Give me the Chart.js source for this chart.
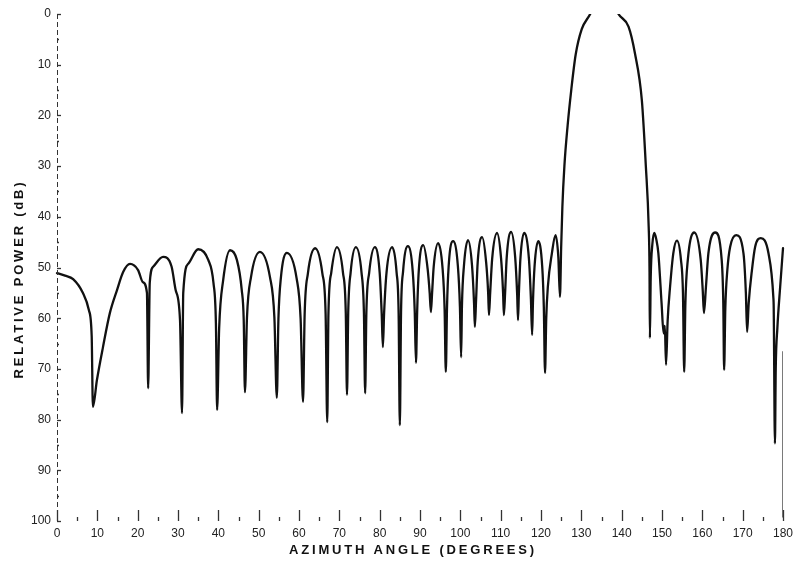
<!DOCTYPE html>
<html>
<head>
<meta charset="utf-8">
<script src="https://cdn.jsdelivr.net/npm/chart.js@4.4.1/dist/chart.umd.min.js"></script>
<style>
  body { margin: 0; background: #fff; }
  #wrap { width: 801px; height: 565px; position: relative; }
</style>
</head>
<body>
<div id="wrap"><canvas id="pattern"></canvas></div>
<script>
// azimuth (deg), relative power (dB) - sidelobes left of the main beam
var leftLobes = [
    [0, 51.1], [2.0, 51.6], [4.0, 52.3], [6.4, 55.0], [7.9, 58.4], [8.6, 63.5], [8.9, 77.5],
    [9.9, 72.2], [11.4, 65.7], [13.1, 59.0], [14.9, 54.4], [16.4, 50.9], [18.1, 49.3], [20.1, 50.5], [21.3, 52.9], [22.3, 55.0], [22.6, 73.8],
    [23.0, 53.0], [23.9, 49.8], [26.3, 47.9], [28.4, 49.8], [29.4, 54.4], [30.5, 60.4], [31.0, 78.7],
    [31.3, 55.0], [32.6, 49.2], [35.0, 46.4], [37.5, 48.5], [38.8, 53.1], [39.4, 61.0], [39.7, 78.1],
    [40.2, 62.0], [41.2, 52.5], [42.9, 46.6], [44.6, 48.5], [45.8, 54.4], [46.3, 60.5], [46.6, 74.6],
    [47.1, 59.9], [48.1, 51.9], [50.3, 46.9], [52.8, 51.9], [53.9, 59.9], [54.5, 75.7],
    [54.9, 60.1], [55.5, 52.1], [57.0, 47.1], [59.4, 52.1], [60.4, 60.1], [61.0, 76.5],
    [61.4, 59.2], [62.2, 51.2], [64.0, 46.2], [65.8, 51.2], [66.6, 59.2], [67.0, 80.5],
    [67.3, 59.0], [68.0, 51.0], [69.4, 46.0], [70.9, 51.0], [71.6, 59.0], [71.9, 75.1],
    [72.2, 59.0], [72.8, 51.0], [74.1, 46.0], [75.5, 51.0], [76.1, 59.0], [76.4, 74.8],
    [76.7, 59.0], [77.4, 51.0], [78.8, 46.0], [80.0, 51.0], [80.5, 59.0], [80.8, 65.7],
    [81.1, 59.0], [81.7, 51.0], [83.1, 46.0], [84.2, 51.0], [84.7, 59.0], [85.0, 81.1],
    [85.3, 58.8], [85.8, 50.8], [87.0, 45.8], [88.2, 50.8], [88.7, 58.8], [89.0, 68.8],
    [89.3, 58.6], [89.7, 50.6], [90.8, 45.6], [91.9, 50.3], [92.4, 55.0], [92.7, 58.8],
    [93.0, 55.0], [93.4, 49.8], [94.5, 45.2], [95.6, 50.2], [96.1, 58.2], [96.4, 70.6],
    [96.7, 57.8], [97.1, 49.8], [98.2, 44.8], [99.4, 49.8], [99.9, 57.8], [100.2, 67.7],
    [100.4, 57.6], [100.9, 49.6], [101.9, 44.6], [102.9, 49.6], [103.4, 57.0], [103.6, 61.7],
    [103.9, 56.5], [104.3, 49.0], [105.4, 44.0], [106.4, 49.0], [106.9, 55.0], [107.1, 59.4],
    [107.4, 55.0], [107.9, 48.2], [109.1, 43.2], [110.1, 48.2], [110.6, 55.0], [110.8, 59.4],
    [111.1, 55.0], [111.5, 48.0], [112.6, 43.0], [113.6, 48.0], [114.1, 55.5], [114.3, 60.4],
    [114.5, 55.5], [114.9, 48.2], [115.8, 43.2], [117.0, 48.2], [117.5, 56.2], [117.8, 63.3],
    [118.0, 57.0], [118.4, 49.8], [119.3, 44.8], [120.3, 49.8], [120.7, 57.8], [121.0, 70.8],
    [121.3, 60.0], [121.7, 53.8], [122.7, 47.2], [123.6, 43.6], [124.3, 48.0], [124.7, 55.8]
];

// main beam (peak runs off the top of the scale)
var mainBeam = [
    [125.0, 46.0], [125.3, 38.0], [125.8, 30.0], [126.6, 22.0], [127.5, 15.0], [128.6, 8.0], [130.1, 3.0], [132.2, 0.0],
    [133.6, -2.5], [135.7, -4.0], [137.8, -2.5],
    [139.2, 0.0], [141.7, 2.5], [143.3, 7.8], [145.0, 17.0], [146.0, 30.1], [146.7, 42.0], [146.9, 50.0], [147.0, 63.9]
];

// sidelobes right of the main beam
var rightLobes = [
    [147.2, 52.0], [147.6, 45.5], [148.1, 43.2], [148.6, 44.5], [149.1, 47.2], [149.9, 57.1], [150.4, 63.0], [150.7, 61.5], [151.0, 69.2],
    [151.4, 60.5], [152.0, 53.8], [152.8, 47.2], [153.7, 44.7], [154.7, 48.5], [155.2, 55.1], [155.5, 70.6],
    [155.8, 57.0], [156.4, 48.5], [158.0, 43.1], [159.6, 48.5], [160.1, 54.5], [160.4, 59.0],
    [160.9, 53.8], [161.5, 47.2], [163.2, 43.1], [164.8, 48.5], [165.2, 57.1], [165.4, 70.2],
    [165.7, 58.0], [166.2, 50.5], [166.9, 45.9], [168.4, 43.6], [170.2, 47.2], [170.8, 55.1], [171.1, 62.7],
    [171.5, 57.0], [172.3, 50.5], [173.1, 45.9], [174.5, 44.2], [176.4, 47.2], [177.6, 55.8], [177.7, 58.0], [178.0, 84.7],
    [178.2, 70.0], [178.6, 62.0], [179.3, 53.8], [180.0, 46.2]
];

// pen trace dropping off at the end of the sweep
var dropout = [[180.0, 66.5], [180.0, 99.3]];

var xTicks = [0, 10, 20, 30, 40, 50, 60, 70, 80, 90, 100, 110, 120, 130, 140, 150, 160, 170, 180];
var yTicks = [0, 10, 20, 30, 40, 50, 60, 70, 80, 90, 100];

var xTitle = 'AZIMUTH ANGLE (DEGREES)';
var yTitle = 'RELATIVE POWER (dB)';

function toPoints(list) {
    return list.map(function(p) { return {x: p[0], y: p[1]}; });
}

var trace = leftLobes.concat(mainBeam, rightLobes);

// tick marks, dashed left axis and spaced-out titles
var axisMarks = {
    id: 'axisMarks',
    afterDraw: function(chart) {
        var ctx = chart.ctx;
        var area = chart.chartArea;
        var x = chart.scales.x;
        var y = chart.scales.y;

        ctx.save();
        ctx.strokeStyle = '#333';
        ctx.lineWidth = 1;

        ctx.setLineDash([5, 3]);
        ctx.beginPath();
        ctx.moveTo(area.left + 0.5, area.top);
        ctx.lineTo(area.left + 0.5, area.bottom);
        ctx.stroke();
        ctx.setLineDash([]);

        ctx.lineWidth = 1.3;
        for (var v = 0; v <= 100; v += 5) {
            var py = Math.round(y.getPixelForValue(v)) + 0.5;
            var len = v % 10 === 0 ? 4 : 2;
            ctx.beginPath();
            ctx.moveTo(area.left, py);
            ctx.lineTo(area.left + len, py);
            ctx.stroke();
        }
        for (var a = 0; a <= 180; a += 5) {
            var px = Math.round(x.getPixelForValue(a)) + 0.5;
            var h = a % 10 === 0 ? 11 : 4;
            ctx.beginPath();
            ctx.moveTo(px, area.bottom);
            ctx.lineTo(px, area.bottom - h);
            ctx.stroke();
        }

        ctx.fillStyle = '#111';
        ctx.font = 'bold 13px "Liberation Sans", Arial, sans-serif';
        ctx.letterSpacing = '2.8px';
        ctx.textAlign = 'center';
        ctx.textBaseline = 'middle';
        ctx.fillText(xTitle, 413, 550);

        ctx.translate(19, 279);
        ctx.rotate(-Math.PI / 2);
        ctx.fillText(yTitle, 0, 0);
        ctx.restore();
    }
};

var chart = new Chart(document.getElementById('pattern'), {
    type: 'line',
    data: {
        datasets: [{
            data: toPoints(trace),
            borderColor: '#111',
            borderWidth: 2.3,
            pointRadius: 0,
            cubicInterpolationMode: 'monotone',
            capBezierPoints: false,
            clip: { top: 0, left: 4, right: 4, bottom: 4 },
            borderJoinStyle: 'round',
            borderCapStyle: 'round'
        }, {
            data: toPoints(dropout),
            borderColor: '#222',
            borderWidth: 1.2,
            pointRadius: 0
        }]
    },
    options: {
        responsive: true,
        maintainAspectRatio: false,
        animation: false,
        layout: { padding: { top: 14, right: 18, left: 0, bottom: 0 } },
        plugins: {
            legend: { display: false },
            tooltip: { enabled: false }
        },
        scales: {
            x: {
                type: 'linear',
                min: 0,
                max: 180,
                afterBuildTicks: function(s) { s.ticks = xTicks.map(function(v) { return {value: v}; }); },
                afterFit: function(s) { s.height = 44; },
                grid: { display: false, drawTicks: false },
                border: { display: false },
                ticks: {
                    autoSkip: false,
                    maxRotation: 0,
                    padding: 5,
                    color: '#222',
                    font: { family: '"Liberation Sans", Arial, sans-serif', size: 12 }
                }
            },
            y: {
                min: 0,
                max: 100,
                reverse: true,
                afterBuildTicks: function(s) { s.ticks = yTicks.map(function(v) { return {value: v}; }); },
                afterFit: function(s) { s.width = 57; },
                grid: { display: false, drawTicks: false },
                border: { display: false },
                ticks: {
                    padding: 6,
                    color: '#222',
                    font: { family: '"Liberation Sans", Arial, sans-serif', size: 12 }
                }
            }
        }
    },
    plugins: [axisMarks]
});
</script>
</body>
</html>
